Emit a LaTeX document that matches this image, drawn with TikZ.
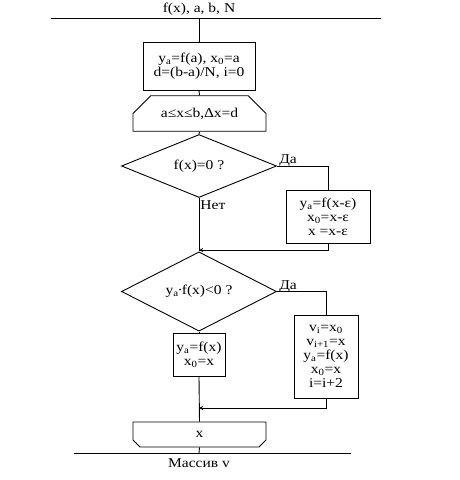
\documentclass[tikz,border=0pt]{standalone}
\usepackage{fontspec}
\setmainfont{Liberation Serif}[FakeStretch=1.15]
\usetikzlibrary{shapes.geometric,shapes.misc}
\newcommand{\idx}[1]{\textsubscript{#1}}

\begin{document}
\begin{tikzpicture}[x=1pt,y=-1pt,line width=0.9pt,
  every node/.style={inner sep=0pt,font=\fontsize{13.5}{14}\selectfont},
  block/.style={draw,align=center},
  ifblock/.style={draw,diamond},
  loopbox/.style={draw,chamfered rectangle,chamfered rectangle xsep=12pt,chamfered rectangle ysep=12pt}]
\useasboundingbox (0,0) rectangle (460,480);
\draw [black] (51,18) -- (381,18);
\coordinate (in) at (199,18);
\node (inp) at (199,9) {f(x), a, b, N};
\node [block,minimum width=112,minimum height=48] (init) at (199,66) {y\idx{a}=f(a), x\idx{0}=a\\d=(b-a)/N, i=0};
\node [loopbox,chamfered rectangle corners={north west,north east},minimum width=133,minimum height=23] (loop) at (199.5,113.5) {a≤x≤b,∆x=d};
\node [ifblock,minimum width=155,minimum height=60] (if1) at (199,166) {f(x)=0 ?};
\node [anchor=south west] (yes1) at ([xshift=2,yshift=-1]if1.east) {Да};
\node [anchor=north west] (no1) at ([xshift=1,yshift=-2]if1.south) {Нет};
\node [block,minimum width=84,minimum height=53] (shift1) at (328,216.5) {y\idx{a}=f(x-ε)\\x\idx{0}=x-ε\\x =x-ε};
\coordinate (join1) at (199,250);
\node [ifblock,minimum width=155,minimum height=59] (if2) at (199,291.5) {y\idx{a}\kern-1pt·\kern-1pt f(x)<0 ?};
\node [anchor=south west] (yes2) at ([xshift=2,yshift=-1]if2.east) {Да};
\node [block,minimum width=52,minimum height=43] (keep) at (199,354.5) {y\idx{a}=f(x)\\x\idx{0}=x};
\node [block,minimum width=64,minimum height=83] (root) at (326,356.5) {v\idx{i}=x\idx{0}\\v\idx{i+1}=x\\y\idx{a}=f(x)\\x\idx{0}=x\\i=i+2};
\coordinate (join2) at (199,408);
\node [loopbox,chamfered rectangle corners={south west,south east},chamfered rectangle ysep=14pt,minimum width=133,minimum height=25] (next) at (199.5,434.5) {x};
\draw [black] (74,453) -- (351,453);
\coordinate (out) at (199,453);
\node (outp) at (199,463) {Массив v};
\draw [black] (in) -- (init.north);
\draw [black] (init.south) -- (loop.north);
\draw [black] (loop.south) -- (if1.north);
\draw [black] (if1.east) -| (shift1.north);
\draw [black,-stealth] (shift1.south) |- (join1);
\draw [black] (if1.south) -- (if2.north);
\draw [black] (if2.east) -| (root.north);
\draw [black] (if2.south) -- (keep.north);
\draw [black,-stealth] (root.south) |- (join2);
\draw [black] (keep.south) -- (next.north);
\draw [black] (next.south) -- (out);
\end{tikzpicture}
\end{document}
